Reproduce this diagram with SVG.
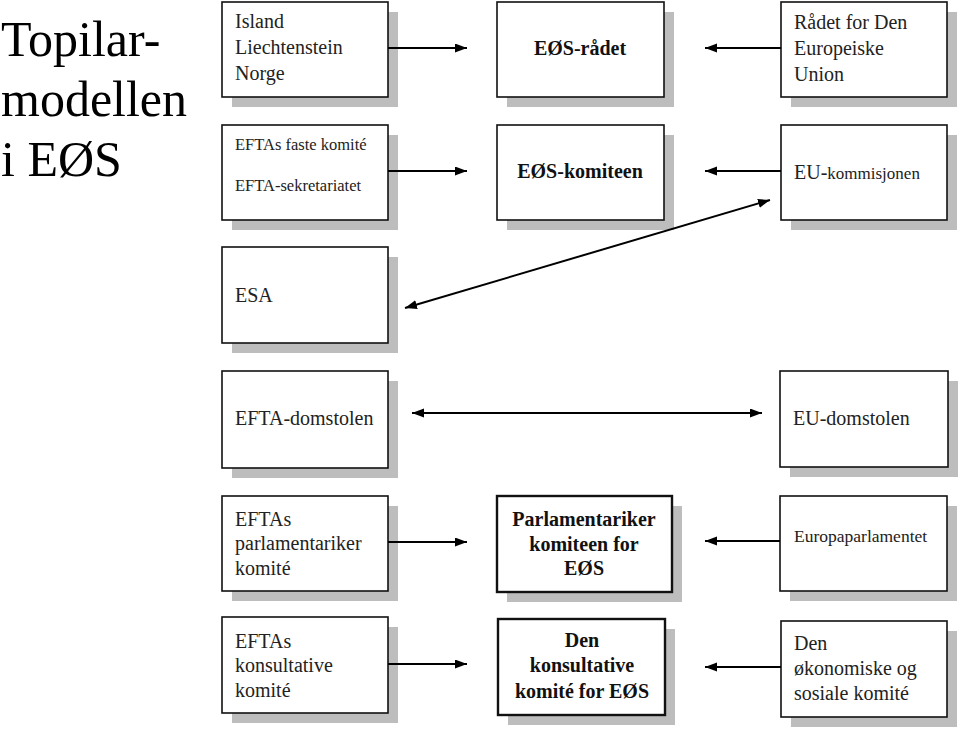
<svg xmlns="http://www.w3.org/2000/svg" width="960" height="729" viewBox="0 0 960 729">
<style>
.sh{fill:#bdbdbd}
.bx{fill:#fff;stroke:#111;stroke-width:1.6}
.bb{fill:#fff;stroke:#111;stroke-width:2.4}
text{font-family:'Liberation Serif',serif}
.t{font-size:20px;fill:#222}
.s{font-size:16.5px}
.ep{font-size:17.5px}
.b{font-weight:bold;text-anchor:middle;fill:#111}
.title{font-size:50px;fill:#000}
.c{stroke:#000;stroke-width:2;fill:none}
</style>
<defs>
<marker id="ah" markerWidth="13" markerHeight="10" refX="12" refY="4.5" orient="auto-start-reverse" markerUnits="userSpaceOnUse">
<path d="M0,0 L12,4.5 L0,9 z" fill="#000"/>
</marker>
</defs>
<rect width="960" height="729" fill="#fff"/>
<g font-family="'Liberation Serif', serif">
<g id="title">
<text class="title" x="1" y="56">Topilar-</text>
<text class="title" x="1" y="116">modellen</text>
<text class="title" x="1" y="176">i EØS</text>
</g>
<g id="n-efta-states">
<rect class="sh" x="232" y="12" width="166" height="95"/>
<rect class="bx" x="222" y="2" width="166" height="95"/>
<text class="t" x="235" y="28">Island</text>
<text class="t" x="235" y="54">Liechtenstein</text>
<text class="t" x="235" y="80">Norge</text>
</g>
<g id="n-efta-komite">
<rect class="sh" x="232" y="135" width="166" height="95"/>
<rect class="bx" x="222" y="125" width="166" height="95"/>
<text class="t s" x="235" y="150">EFTAs faste komité</text>
<text class="t s" x="235" y="191">EFTA-sekretariatet</text>
</g>
<g id="n-esa">
<rect class="sh" x="232" y="257" width="166" height="96"/>
<rect class="bx" x="222" y="247" width="166" height="96"/>
<text class="t" x="235" y="302">ESA</text>
</g>
<g id="n-efta-domstolen">
<rect class="sh" x="232" y="381" width="166" height="97"/>
<rect class="bx" x="222" y="371" width="166" height="97"/>
<text class="t" x="235" y="425">EFTA-domstolen</text>
</g>
<g id="n-efta-parl">
<rect class="sh" x="232" y="506" width="166" height="95"/>
<rect class="bx" x="222" y="496" width="166" height="95"/>
<text class="t" x="235" y="526">EFTAs</text>
<text class="t" x="235" y="550">parlamentariker</text>
<text class="t" x="235" y="575">komité</text>
</g>
<g id="n-efta-kons">
<rect class="sh" x="232" y="627" width="166" height="96"/>
<rect class="bx" x="222" y="617" width="166" height="96"/>
<text class="t" x="235" y="648">EFTAs</text>
<text class="t" x="235" y="672">konsultative</text>
<text class="t" x="235" y="697">komité</text>
</g>
<g id="n-eos-radet">
<rect class="sh" x="507" y="12" width="167" height="95"/>
<rect class="bx" x="497" y="2" width="167" height="95"/>
<text class="t b" x="580" y="55">EØS-rådet</text>
</g>
<g id="n-eos-komiteen">
<rect class="sh" x="507" y="135" width="167" height="95"/>
<rect class="bx" x="497" y="125" width="167" height="95"/>
<text class="t b" x="580" y="178">EØS-komiteen</text>
</g>
<g id="n-parl-komiteen">
<rect class="sh" x="507" y="506" width="175" height="96"/>
<rect class="bb" x="497" y="496" width="175" height="96"/>
<text class="t b" x="584" y="526">Parlamentariker</text>
<text class="t b" x="584" y="551">komiteen for</text>
<text class="t b" x="584" y="575">EØS</text>
</g>
<g id="n-kons-komite">
<rect class="sh" x="508" y="629" width="167" height="96"/>
<rect class="bb" x="498" y="619" width="167" height="96"/>
<text class="t b" x="582" y="647">Den</text>
<text class="t b" x="582" y="672">konsultative</text>
<text class="t b" x="582" y="698">komité for EØS</text>
</g>
<g id="n-eu-radet">
<rect class="sh" x="791" y="12" width="166" height="95"/>
<rect class="bx" x="781" y="2" width="166" height="95"/>
<text class="t" x="794" y="29">Rådet for Den</text>
<text class="t" x="794" y="55">Europeiske</text>
<text class="t" x="794" y="81">Union</text>
</g>
<g id="n-eu-kommisjonen">
<rect class="sh" x="791" y="135" width="166" height="95"/>
<rect class="bx" x="781" y="125" width="166" height="95"/>
<text class="t" x="794" y="179">EU-<tspan font-size="17">kommisjonen</tspan></text>
</g>
<g id="n-eu-domstolen">
<rect class="sh" x="790" y="381" width="168" height="96"/>
<rect class="bx" x="780" y="371" width="168" height="96"/>
<text class="t" x="793" y="425">EU-domstolen</text>
</g>
<g id="n-europaparl">
<rect class="sh" x="790" y="506" width="167" height="95"/>
<rect class="bx" x="780" y="496" width="167" height="95"/>
<text class="t ep" x="794" y="542">Europaparlamentet</text>
</g>
<g id="n-eu-osk">
<rect class="sh" x="791" y="631" width="166" height="96"/>
<rect class="bx" x="781" y="621" width="166" height="96"/>
<text class="t" x="794" y="650">Den</text>
<text class="t" x="794" y="675">økonomiske og</text>
<text class="t" x="794" y="700">sosiale komité</text>
</g>
</g>
<g id="connectors">
<line class="c" x1="388" y1="48" x2="467" y2="48" marker-end="url(#ah)"/>
<line class="c" x1="781" y1="48" x2="705" y2="48" marker-end="url(#ah)"/>
<line class="c" x1="388" y1="171" x2="467" y2="171" marker-end="url(#ah)"/>
<line class="c" x1="781" y1="171" x2="705" y2="171" marker-end="url(#ah)"/>
<line class="c" x1="405" y1="308" x2="770" y2="200" marker-start="url(#ah)" marker-end="url(#ah)"/>
<line class="c" x1="412" y1="413" x2="762" y2="413" marker-start="url(#ah)" marker-end="url(#ah)"/>
<line class="c" x1="388" y1="542" x2="467" y2="542" marker-end="url(#ah)"/>
<line class="c" x1="780" y1="541" x2="705" y2="541" marker-end="url(#ah)"/>
<line class="c" x1="388" y1="664" x2="467" y2="664" marker-end="url(#ah)"/>
<line class="c" x1="781" y1="667" x2="705" y2="667" marker-end="url(#ah)"/>
</g>
</svg>
